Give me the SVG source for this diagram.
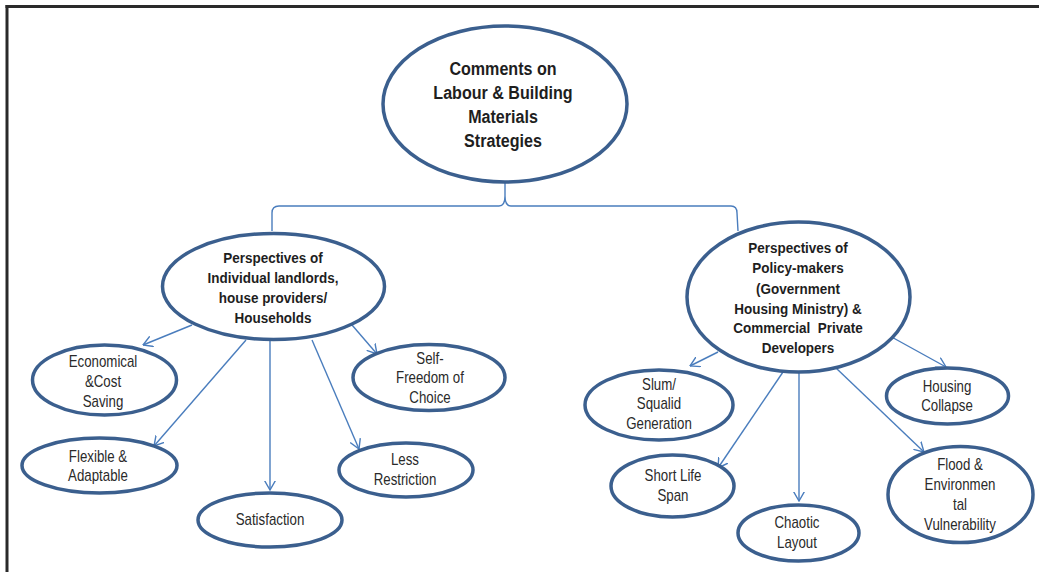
<svg xmlns="http://www.w3.org/2000/svg" width="1039" height="572" viewBox="0 0 1039 572">
<style>
.n{fill:#fff;stroke:#3b5f8e;stroke-width:3.5}
.c{fill:none;stroke:#4a7dbd;stroke-width:1.4}
.t{font-family:"Liberation Sans",Arial,sans-serif;fill:#1e1e1e;text-anchor:middle}
.b{font-weight:bold}
.h{font-size:18.5px}
.m{font-size:15.5px}
.l{font-size:16px;fill:#2a2a2a}
</style>
<defs>
<marker id="a" viewBox="0 -6 10 12" refX="9.5" refY="0" markerWidth="10" markerHeight="12" markerUnits="userSpaceOnUse" orient="auto">
<path d="M0,-5.5 L9.5,0 L0,5.5" fill="none" stroke="#4a7dbd" stroke-width="1.4"/>
</marker>
</defs>
<rect width="1039" height="572" fill="#fff"/>
<g id="frame" stroke="#2a2a2a" stroke-width="3">
<line x1="5.5" y1="6.5" x2="1039" y2="6.5"/>
<line x1="7" y1="5" x2="7" y2="572"/>
</g>
<g id="connectors" class="c">
<path d="M272,231 L272,213 Q272,206 279,206 L499,206 Q505,206 505,196 L505,182 M505,196 Q505,206 511,206 L731,206 Q737,206 737,213 L738,231"/>
<line x1="192" y1="325" x2="143" y2="345" marker-end="url(#a)"/>
<line x1="246" y1="340" x2="154" y2="446" marker-end="url(#a)"/>
<line x1="270" y1="340" x2="270" y2="490" marker-end="url(#a)"/>
<line x1="312" y1="340" x2="359" y2="449" marker-end="url(#a)"/>
<line x1="352" y1="325" x2="377" y2="354" marker-end="url(#a)"/>
<line x1="718" y1="352" x2="690" y2="366" marker-end="url(#a)"/>
<line x1="783" y1="372" x2="718" y2="468" marker-end="url(#a)"/>
<line x1="799" y1="372" x2="799" y2="501" marker-end="url(#a)"/>
<line x1="836" y1="368" x2="924" y2="452" marker-end="url(#a)"/>
<line x1="888" y1="335" x2="946" y2="367" marker-end="url(#a)"/>
</g>
<g id="root">
<ellipse class="n" cx="505" cy="104" rx="122" ry="78"/>
<g transform="translate(503 0) scale(0.87 1)"><text class="t b h" x="0"><tspan x="0" y="75">Comments on</tspan><tspan x="0" y="99.5">Labour &amp; Building</tspan><tspan x="0" y="123.5">Materials</tspan><tspan x="0" y="147.5">Strategies</tspan></text></g>
</g>
<g id="left">
<ellipse class="n" cx="273.5" cy="286.5" rx="111" ry="53"/>
<g transform="translate(273 0) scale(0.87 1)"><text class="t b m" x="0"><tspan x="0" y="263.5">Perspectives of</tspan><tspan x="0" y="283.5">Individual landlords,</tspan><tspan x="0" y="303.5">house providers/</tspan><tspan x="0" y="323.5">Households</tspan></text></g>
</g>
<g id="right">
<ellipse class="n" cx="798.5" cy="297" rx="111.5" ry="75"/>
<g transform="translate(798 0) scale(0.87 1)"><text class="t b m" x="0"><tspan x="0" y="253.5">Perspectives of</tspan><tspan x="0" y="273.5">Policy-makers</tspan><tspan x="0" y="294.5">(Government</tspan><tspan x="0" y="314.5">Housing Ministry) &amp;</tspan><tspan x="0" y="333.5" xml:space="preserve">Commercial  Private</tspan><tspan x="0" y="353.5">Developers</tspan></text></g>
</g>
<g id="economical">
<ellipse class="n" cx="104.5" cy="380" rx="72" ry="35"/>
<g transform="translate(103 0) scale(0.83 1)"><text class="t l" x="0"><tspan x="0" y="367.5">Economical</tspan><tspan x="0" y="387.5">&amp;Cost</tspan><tspan x="0" y="407.5">Saving</tspan></text></g>
</g>
<g id="self">
<ellipse class="n" cx="429" cy="377.5" rx="76" ry="33"/>
<g transform="translate(430 0) scale(0.83 1)"><text class="t l" x="0"><tspan x="0" y="364.5">Self-</tspan><tspan x="0" y="383.5">Freedom of</tspan><tspan x="0" y="403.5">Choice</tspan></text></g>
</g>
<g id="flexible">
<ellipse class="n" cx="99.5" cy="465.5" rx="77.5" ry="27.5"/>
<g transform="translate(98 0) scale(0.83 1)"><text class="t l" x="0"><tspan x="0" y="462.5">Flexible &amp;</tspan><tspan x="0" y="481.5">Adaptable</tspan></text></g>
</g>
<g id="satisfaction">
<ellipse class="n" cx="270" cy="520" rx="72" ry="27"/>
<g transform="translate(270 0) scale(0.83 1)"><text class="t l" x="0" y="525.5">Satisfaction</text></g>
</g>
<g id="less">
<ellipse class="n" cx="406" cy="470" rx="67" ry="27"/>
<g transform="translate(405 0) scale(0.83 1)"><text class="t l" x="0"><tspan x="0" y="465.5">Less</tspan><tspan x="0" y="485.5">Restriction</tspan></text></g>
</g>
<g id="slum">
<ellipse class="n" cx="659" cy="405" rx="74" ry="35"/>
<g transform="translate(659 0) scale(0.83 1)"><text class="t l" x="0"><tspan x="0" y="390.5">Slum/</tspan><tspan x="0" y="409.5">Squalid</tspan><tspan x="0" y="429.5">Generation</tspan></text></g>
</g>
<g id="housing">
<ellipse class="n" cx="947.5" cy="396" rx="61" ry="28"/>
<g transform="translate(947 0) scale(0.83 1)"><text class="t l" x="0"><tspan x="0" y="392.5">Housing</tspan><tspan x="0" y="411.5">Collapse</tspan></text></g>
</g>
<g id="shortlife">
<ellipse class="n" cx="672.5" cy="486" rx="61.5" ry="31"/>
<g transform="translate(673 0) scale(0.83 1)"><text class="t l" x="0"><tspan x="0" y="481.5">Short Life</tspan><tspan x="0" y="501.5">Span</tspan></text></g>
</g>
<g id="chaotic">
<ellipse class="n" cx="798.5" cy="533" rx="60.5" ry="28"/>
<g transform="translate(797 0) scale(0.83 1)"><text class="t l" x="0"><tspan x="0" y="528.5">Chaotic</tspan><tspan x="0" y="548.5">Layout</tspan></text></g>
</g>
<g id="flood">
<ellipse class="n" cx="960.5" cy="494.5" rx="72.5" ry="48"/>
<g transform="translate(960 0) scale(0.83 1)"><text class="t l" x="0"><tspan x="0" y="470.5">Flood &amp;</tspan><tspan x="0" y="490.5">Environmen</tspan><tspan x="0" y="510.5">tal</tspan><tspan x="0" y="530.5">Vulnerability</tspan></text></g>
</g>
</svg>
